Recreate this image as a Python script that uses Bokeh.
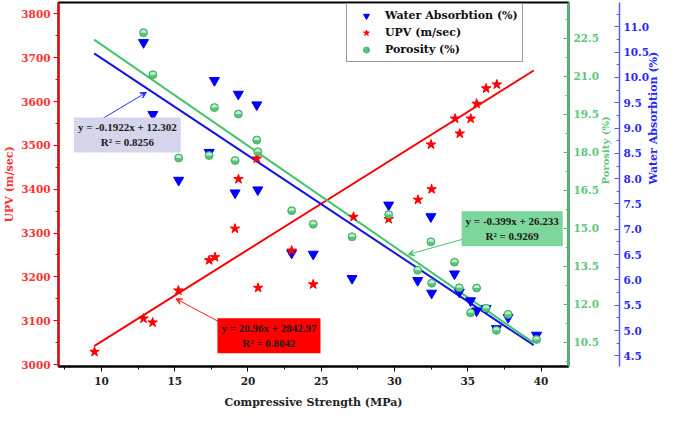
import numpy as np
from bokeh.embed import file_html
from bokeh.models import (Arrow, Label, Legend, LegendItem, LinearAxis, NumeralTickFormatter,
                          Range1d, SingleIntervalTicker, VeeHead)
from bokeh.plotting import figure
from bokeh.resources import INLINE

# Data
cs_upv = [9.53, 12.87, 13.49, 15.25, 17.35, 17.75, 19.11, 19.35, 20.6, 20.69, 22.98, 24.45,
          27.2, 29.6, 31.6, 32.49, 32.53, 34.13, 34.45, 35.2, 35.6, 36.25, 36.98]
upv = [3029, 3105, 3096, 3169, 3238, 3245, 3310, 3423, 3470, 3175, 3260, 3183,
       3337, 3332, 3376, 3502, 3400, 3561, 3527, 3561, 3595, 3630, 3639]

cs = [12.87, 13.51, 15.27, 17.35, 17.71, 19.12, 19.34, 20.6, 20.67, 22.98, 24.45, 27.1,
      29.6, 31.58, 32.48, 32.53, 34.09, 34.42, 35.19, 35.6, 36.25, 36.95, 37.75, 39.69]
porosity = [22.72, 21.06, 17.77, 17.87, 19.76, 17.67, 19.51, 18.48, 18.02, 15.69, 15.16, 14.66,
            15.54, 13.34, 14.46, 12.83, 13.66, 12.65, 11.66, 12.64, 11.84, 10.97, 11.6, 10.61]
water = [10.69, 9.27, 7.97, 8.52, 9.94, 7.72, 9.67, 9.46, 7.78, 6.53, 6.51, 6.03,
         7.48, 5.99, 7.25, 5.74, 6.12, 5.76, 5.59, 5.39, 5.44, 5.04, 5.26, 4.91]

# Linear fits as printed on the chart (slope, intercept) over the x span of the lines
fit_x = np.array([9.5, 39.5])
fit_upv = (20.96, 2842.97)
fit_por = (-0.399, 26.233)
fit_wa = (-0.1922, 12.302)

RED, GREEN, BLUE = "#ff0000", "#45c46c", "#0000ff"
FONT = "DejaVu Serif"
BOX_FONT = "Liberation Serif"

p = figure(
    width=669, height=411,
    x_range=Range1d(7.07, 41.87), y_range=Range1d(2995.6, 3826),
    output_backend="svg", toolbar_location=None,
    min_border_top=2, min_border_left=0, min_border_right=0, min_border_bottom=0,
)
p.extra_y_ranges = {"por": Range1d(9.54, 23.91), "wa": Range1d(4.29, 11.48)}
p.xgrid.visible = False
p.ygrid.visible = False
p.outline_line_color = "black"
p.outline_line_width = 2


def style_axis(ax, color, label_color):
    ax.axis_line_color = color
    ax.axis_line_width = 2
    ax.major_tick_line_color = color
    ax.minor_tick_line_color = color
    ax.major_label_text_font = FONT
    ax.major_label_text_font_style = "bold"
    ax.major_label_text_font_size = "10.5px"
    ax.major_label_text_color = label_color
    ax.axis_label_text_font = FONT
    ax.axis_label_text_font_style = "bold"
    ax.axis_label_text_font_size = "11px"
    ax.axis_label_text_color = label_color


xa = p.xaxis[0]
xa.ticker = SingleIntervalTicker(interval=5, num_minor_ticks=2)
xa.axis_label = "Compressive Strength (MPa)"
style_axis(xa, "black", "#222222")
xa.major_tick_out, xa.major_tick_in = 5, 0
xa.minor_tick_out, xa.minor_tick_in = 3, 0
xa.axis_label_standoff = 8

ya = p.yaxis[0]
ya.ticker = SingleIntervalTicker(interval=100, num_minor_ticks=2)
ya.axis_label = "UPV (m/sec)"
style_axis(ya, RED, "#ff3030")
ya.major_tick_out, ya.major_tick_in = 5, 0
ya.minor_tick_out, ya.minor_tick_in = 3, 0
ya.major_label_standoff = 3
ya.axis_label_standoff = 2

por_axis = LinearAxis(y_range_name="por", axis_label="Porosity (%)",
                      ticker=SingleIntervalTicker(interval=1.5, num_minor_ticks=2),
                      formatter=NumeralTickFormatter(format="0.0"))
style_axis(por_axis, GREEN, "#5cc878")
por_axis.major_tick_in, por_axis.major_tick_out = 5, 0
por_axis.minor_tick_in, por_axis.minor_tick_out = 3, 0
por_axis.axis_label_text_font_size = "10px"
por_axis.major_label_standoff = 5
por_axis.axis_label_standoff = 3
por_axis.axis_label_orientation = np.pi / 2
p.add_layout(por_axis, "right")

wa_axis = LinearAxis(y_range_name="wa", axis_label="Water Absorbtion (%)",
                     ticker=SingleIntervalTicker(interval=0.5, num_minor_ticks=2),
                     formatter=NumeralTickFormatter(format="0.0"))
style_axis(wa_axis, "#5a5aff", "#2828ff")
wa_axis.axis_line_width = 1.5
wa_axis.major_tick_in, wa_axis.major_tick_out = 5, 0
wa_axis.minor_tick_in, wa_axis.minor_tick_out = 3, 0
wa_axis.major_label_standoff = 4
wa_axis.axis_label_standoff = 1
wa_axis.axis_label_orientation = np.pi / 2
p.add_layout(wa_axis, "right")

# Fit lines
p.line(fit_x, fit_upv[0] * fit_x + fit_upv[1], line_color=RED, line_width=2)
p.line(fit_x, fit_por[0] * fit_x + fit_por[1], line_color=GREEN, line_width=2, y_range_name="por")
p.line(fit_x, fit_wa[0] * fit_x + fit_wa[1], line_color="#1414e6", line_width=2, y_range_name="wa")

# Markers
r_wa = p.scatter(cs, water, marker="inverted_triangle", size=10, fill_color=BLUE,
                 line_color=BLUE, y_range_name="wa")
r_upv = p.scatter(cs_upv, upv, marker="star", size=10, fill_color=RED, line_color=RED)
r_por = p.scatter(cs, porosity, marker="circle", size=8, fill_color="#58c479",
                  line_color="#3aa85c", line_width=0.8, y_range_name="por")
p.wedge(cs, porosity, radius=3, radius_units="screen", start_angle=0, end_angle=np.pi,
        fill_color="#c4ecd0", line_color=None, y_range_name="por")

# Fit equation boxes with arrows
boxes = [
    (11.77, 3524, "y = -0.1922x + 12.302\nR\u00b2 = 0.8256", "#d5d5ec", (9.87, 3557, 13.07, 3621), "#3030ff"),
    (21.43, 3066, "y = 20.96x + 2842.97\nR\u00b2 = 0.8042", "#ff0000", (18.05, 3097, 15.09, 3150), "#ff2020"),
    (38.03, 3310, "y = -0.399x + 26.233\nR\u00b2 = 0.9269", "#7dd69a", (34.65, 3286, 30.93, 3251), "#45c46c"),
]
for bx, by, txt, bg, (x0, y0, x1, y1), ac in boxes:
    p.add_layout(Arrow(x_start=x0, y_start=y0, x_end=x1, y_end=y1, line_color=ac, line_width=1,
                       end=VeeHead(size=6, line_color=ac, line_width=1, fill_color=ac)))
    p.add_layout(Label(x=bx, y=by, text=txt, text_align="center", text_baseline="middle",
                       text_font=BOX_FONT, text_font_style="bold", text_font_size="11px",
                       text_color="#1a1a1a", text_line_height=1.25,
                       background_fill_color=bg, padding=4))

legend = Legend(
    items=[LegendItem(label="Water Absorbtion (%)", renderers=[r_wa]),
           LegendItem(label="UPV (m/sec)", renderers=[r_upv]),
           LegendItem(label="Porosity (%)", renderers=[r_por])],
    location=(288, 304),
)
legend.label_text_font = FONT
legend.label_text_font_style = "bold"
legend.label_text_font_size = "11px"
legend.label_text_color = "#111111"
legend.border_line_color = "#333333"
legend.border_line_width = 1
legend.padding = 4
legend.spacing = 2
legend.margin = 0
legend.glyph_width = 30
legend.glyph_height = 15
legend.label_height = 15
legend.label_standoff = 4
p.add_layout(legend)

open("out.html", "w").write(file_html(p, INLINE))
